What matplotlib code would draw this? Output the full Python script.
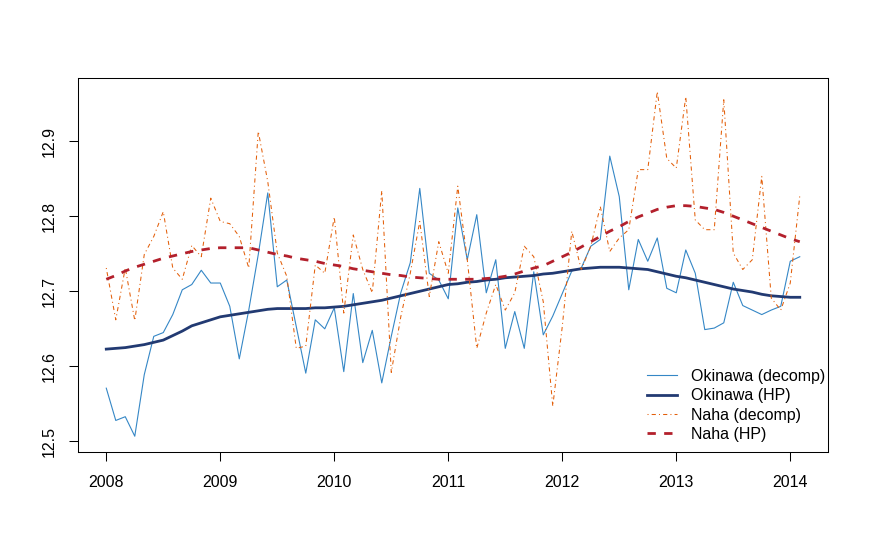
import matplotlib
matplotlib.use("Agg")
import matplotlib.pyplot as plt
import numpy as np

# monthly series, Jan 2008 .. Feb 2014
start_year = 2008
okinawa_decomp = [
    12.571, 12.528, 12.533, 12.507, 12.589, 12.640, 12.645, 12.669, 12.702, 12.709,
    12.728, 12.711, 12.711, 12.680, 12.610, 12.675, 12.749, 12.831, 12.706, 12.715,
    12.653, 12.591, 12.662, 12.650, 12.678, 12.593, 12.697, 12.605, 12.648, 12.578,
    12.640, 12.698, 12.738, 12.837, 12.724, 12.715, 12.690, 12.811, 12.742, 12.802,
    12.698, 12.742, 12.624, 12.673, 12.624, 12.726, 12.642, 12.667, 12.697, 12.727,
    12.731, 12.760, 12.769, 12.880, 12.826, 12.702, 12.769, 12.740, 12.771, 12.704,
    12.698, 12.755, 12.724, 12.649, 12.651, 12.658, 12.712, 12.681, 12.675, 12.669,
    12.675, 12.680, 12.740, 12.746,
]
okinawa_hp = [
    12.623, 12.624, 12.625, 12.627, 12.629, 12.632, 12.635, 12.641, 12.647, 12.654,
    12.658, 12.662, 12.666, 12.668, 12.670, 12.672, 12.674, 12.676, 12.677, 12.677,
    12.677, 12.677, 12.678, 12.678, 12.679, 12.680, 12.682, 12.684, 12.686, 12.688,
    12.691, 12.694, 12.697, 12.700, 12.703, 12.706, 12.709, 12.710, 12.712, 12.713,
    12.715, 12.716, 12.718, 12.719, 12.720, 12.721, 12.723, 12.724, 12.726, 12.728,
    12.730, 12.731, 12.732, 12.732, 12.732, 12.731, 12.730, 12.729, 12.726, 12.723,
    12.720, 12.718, 12.715, 12.712, 12.709, 12.706, 12.703, 12.701, 12.699, 12.696,
    12.694, 12.693, 12.692, 12.692,
]
naha_decomp = [
    12.731, 12.662, 12.731, 12.661, 12.749, 12.773, 12.806, 12.731, 12.716, 12.761,
    12.746, 12.824, 12.793, 12.790, 12.773, 12.731, 12.913, 12.846, 12.751, 12.720,
    12.624, 12.627, 12.735, 12.724, 12.799, 12.671, 12.775, 12.729, 12.698, 12.834,
    12.592, 12.666, 12.724, 12.793, 12.693, 12.766, 12.724, 12.840, 12.742, 12.624,
    12.671, 12.709, 12.675, 12.698, 12.760, 12.746, 12.686, 12.547, 12.653, 12.780,
    12.729, 12.760, 12.813, 12.753, 12.771, 12.782, 12.862, 12.862, 12.966, 12.877,
    12.864, 12.959, 12.795, 12.782, 12.782, 12.955, 12.751, 12.729, 12.742, 12.853,
    12.691, 12.675, 12.711, 12.827,
]
naha_hp = [
    12.716, 12.721, 12.727, 12.732, 12.736, 12.740, 12.744, 12.747, 12.750, 12.753,
    12.755, 12.757, 12.758, 12.758, 12.758, 12.758, 12.755, 12.752, 12.749, 12.747,
    12.744, 12.742, 12.740, 12.737, 12.735, 12.733, 12.730, 12.728, 12.726, 12.724,
    12.722, 12.721, 12.719, 12.718, 12.717, 12.716, 12.716, 12.716, 12.716, 12.716,
    12.717, 12.718, 12.720, 12.723, 12.727, 12.731, 12.734, 12.740, 12.746, 12.752,
    12.759, 12.766, 12.773, 12.780, 12.786, 12.793, 12.799, 12.804, 12.809, 12.812,
    12.814, 12.814, 12.813, 12.811, 12.809, 12.805, 12.800, 12.795, 12.790, 12.785,
    12.780, 12.775, 12.770, 12.766,
]
x_ticks = [2008, 2009, 2010, 2011, 2012, 2013, 2014]
y_ticks = [12.5, 12.6, 12.7, 12.8, 12.9]

t = start_year + np.arange(len(okinawa_decomp)) / 12.0

plt.rcParams['font.family'] = ['Liberation Sans', 'DejaVu Sans']
fs = 11.5

fig = plt.figure(figsize=(8.7, 5.49), dpi=100)
ax = fig.add_axes([78 / 870, 1 - 452 / 549, 750 / 870, 374 / 549])

ax.plot(t, okinawa_decomp, color='#3587c6', lw=0.8, label='Okinawa (decomp)')
ax.plot(t, okinawa_hp, color='#223a72', lw=2.0, label='Okinawa (HP)')
ax.plot(t, naha_decomp, color='#e35f0a', lw=0.75, dashes=(1, 3, 4, 3),
        label='Naha (decomp)')
ax.plot(t, naha_hp, color='#b3202c', lw=2.0, dashes=(3, 3), label='Naha (HP)')

ax.set_xlim(2007.752, 2014.331)
ax.set_ylim(12.486, 12.984)
ax.set_xticks(x_ticks)
ax.set_yticks(y_ticks)
ax.set_xticklabels([str(v) for v in x_ticks], fontsize=fs)
ax.set_yticklabels([f'{v:.1f}' for v in y_ticks], fontsize=fs, rotation=90, va='center')
ax.tick_params(length=6.5, width=0.75, direction='out', color='black')
ax.tick_params(axis='x', pad=10)
ax.tick_params(axis='y', pad=9)
for s in ax.spines.values():
    s.set_linewidth(0.75)
    s.set_color('black')

ax.legend(loc='upper left', bbox_to_anchor=(647 / 870, 1 - 369 / 549),
          bbox_transform=fig.transFigure, frameon=False, fontsize=fs,
          borderpad=0, borderaxespad=0, handlelength=1.88, handletextpad=0.86,
          labelspacing=0.27)

fig.savefig('out.png', dpi=100)
